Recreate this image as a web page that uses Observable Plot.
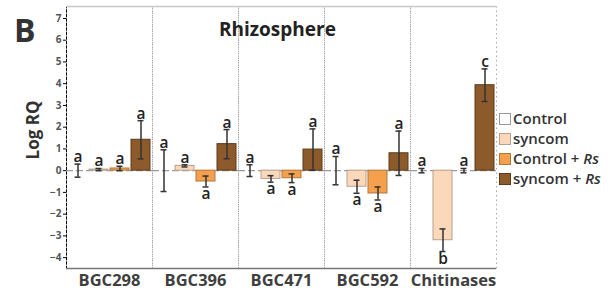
<!DOCTYPE html>
<html>
<head>
<meta charset="utf-8">
<script src="https://cdn.jsdelivr.net/npm/d3@7"></script>
<script src="https://cdn.jsdelivr.net/npm/@observablehq/plot@0.6"></script>
<style>
  body { margin: 0; background: #fff; }
  #wrap { position: relative; width: 608px; height: 294px; font-family: "Open Sans", sans-serif; }
  #wrap svg { position: absolute; left: 0; top: 0; }
  .panel { position: absolute; left: 14px; top: 8px; font-size: 32px; font-weight: 700; color: #333; }
  .title { position: absolute; left: 219px; top: 16px; font-size: 19px; font-weight: 700; color: #222; }
  .ylab { position: absolute; left: 32px; top: 130px; transform: translate(-50%, -50%) rotate(-90deg); font-size: 17px; font-weight: 700; color: #333; white-space: nowrap; }
  .legend { position: absolute; left: 499px; top: 108px; font-size: 15px; font-weight: 600; color: #333; }
  .legend div { height: 20px; line-height: 20px; white-space: nowrap; }
  .legend span.sw { display: inline-block; vertical-align: -1px; width: 12px; height: 12px; margin-right: 2px; box-sizing: border-box; border: 1px solid #999; }
  [aria-label^="fx-axis"] text { font-size: 16.5px; font-weight: 700; fill: #3f3f3f; }
  [aria-label^="y-axis"] text { font-size: 10px; font-weight: 700; fill: #555; }
</style>
</head>
<body>
<div id="wrap"></div>
<script>
const genes = ["BGC298", "BGC396", "BGC471", "BGC592", "Chitinases"];
const treatments = ["Control", "syncom", "Control + Rs", "syncom + Rs"];
const legendHtml = ["Control", "syncom", "Control + <i>Rs</i>", "syncom + <i>Rs</i>"];
const colors = ["#ffffff", "#fcd8bb", "#f4a04c", "#8d5a2c"];
const strokes = ["#999999", "#b8a08e", "#b07840", "#5e3a1a"];
// values per gene, in treatment order
const means = {
  BGC298: [0, 0.05, 0.1, 1.42],
  BGC396: [0, 0.22, -0.5, 1.22],
  BGC471: [0, -0.38, -0.35, 0.97],
  BGC592: [0, -0.74, -1.05, 0.8],
  Chitinases: [0, -3.2, 0, 3.93]
};
const errs = {
  BGC298: [0.3, 0.05, 0.1, 0.88],
  BGC396: [0.96, 0.05, 0.25, 0.67],
  BGC471: [0.27, 0.15, 0.2, 0.95],
  BGC592: [0.65, 0.3, 0.3, 1.02],
  Chitinases: [0.1, 0.52, 0.1, 0.75]
};
const letters = {
  BGC298: ["a", "a", "a", "a"],
  BGC396: ["a", "a", "a", "a"],
  BGC471: ["a", "a", "a", "a"],
  BGC592: ["a", "a", "a", "a"],
  Chitinases: ["a", "b", "a", "c"]
};
const yTicks = [-4, -3, -2, -1, 0, 1, 2, 3, 4, 5, 6, 7];

const data = genes.flatMap(g => treatments.map((t, i) => {
  const m = means[g][i], e = errs[g][i];
  return {gene: g, treatment: t, mean: m, lo: m - e, hi: m + e,
          letter: letters[g][i], ly: m < 0 ? m - e : m + e, neg: m < 0};
}));

const plot = Plot.plot({
  width: 608,
  height: 294,
  marginLeft: 65,
  marginRight: 111,
  marginTop: 6,
  marginBottom: 26,
  style: {fontFamily: "Open Sans, sans-serif", background: "transparent"},
  facet: {data, x: "gene"},
  fx: {domain: genes, padding: 0, label: null, tickSize: 0, tickPadding: 6},
  x: {domain: treatments, axis: null, paddingInner: 0.08, paddingOuter: 0.02},
  y: {domain: [-4.5, 7.55], ticks: yTicks, tickSize: 3, tickPadding: 2, label: null, line: true},
  color: {domain: treatments, range: colors},
  marks: [
    Plot.frame({stroke: "#aaaaaa", strokeDasharray: "1.5,3"}),
    Plot.ruleY([0], {stroke: "#9a9a9a", strokeWidth: 1.3, strokeDasharray: "7,3"}),
    Plot.barY(data, {x: "treatment", y: "mean", fill: "treatment",
      stroke: d => strokes[treatments.indexOf(d.treatment)], strokeWidth: 1}),
    Plot.ruleX(data, {x: "treatment", y1: "lo", y2: "hi", stroke: "#333", strokeWidth: 1.5}),
    Plot.tickY(data, {x: "treatment", y: "lo", stroke: "#333", strokeWidth: 1.5, insetLeft: 6.5, insetRight: 6.5}),
    Plot.tickY(data, {x: "treatment", y: "hi", stroke: "#333", strokeWidth: 1.5, insetLeft: 6.5, insetRight: 6.5}),
    Plot.text(data, {filter: d => !d.neg, x: "treatment", y: "ly", text: "letter", dy: -7, fontSize: 15.5, fontWeight: 600, fill: "#222"}),
    Plot.text(data, {filter: d => d.neg, x: "treatment", y: "ly", text: "letter", dy: 7, fontSize: 15.5, fontWeight: 600, fill: "#222"}),
    Plot.ruleY([7.55], {stroke: "#c8c8c8", strokeWidth: 1.5}),
    Plot.ruleY([-4.5], {stroke: "#777", strokeWidth: 1.5})
  ]
});

const wrap = document.getElementById("wrap");
wrap.appendChild(plot);
wrap.insertAdjacentHTML("beforeend", `<div class="panel">B</div><div class="title">Rhizosphere</div><div class="ylab">Log RQ</div>`);
const leg = document.createElement("div");
leg.className = "legend";
treatments.forEach((t, i) => {
  const row = document.createElement("div");
  row.innerHTML = `<span class="sw" style="background:${colors[i]};border-color:${strokes[i]}"></span>${legendHtml[i]}`;
  leg.appendChild(row);
});
wrap.appendChild(leg);
</script>
</body>
</html>
